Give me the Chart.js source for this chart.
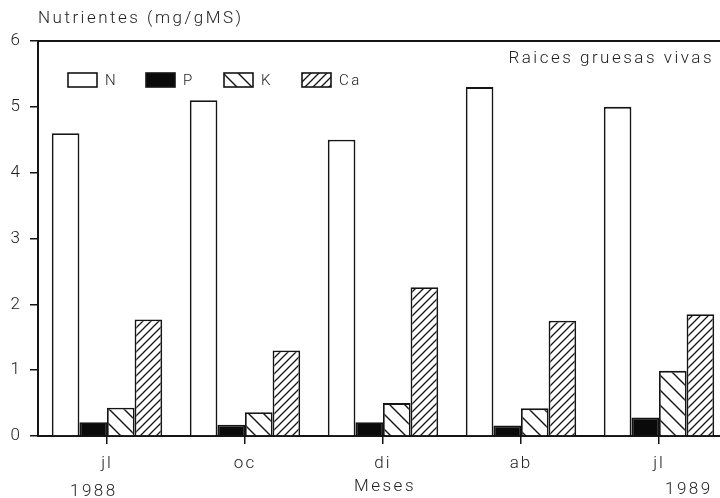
<!DOCTYPE html>
<html>
<head>
<meta charset="utf-8">
<script src="https://cdn.jsdelivr.net/npm/chart.js@4.4.0/dist/chart.umd.min.js"></script>
<style>
  html, body { margin: 0; padding: 0; background: #fff; overflow: hidden; }
  #wrap { width: 720px; height: 498px; overflow: hidden; }
</style>
</head>
<body>
<div id="wrap"><canvas id="chart" width="730" height="498"></canvas></div>
<script>
const months = ['jl', 'oc', 'di', 'ab', 'jl'];
const nValues = [4.6, 5.1, 4.5, 5.3, 5.0];
const pValues = [0.21, 0.17, 0.21, 0.16, 0.28];
const kValues = [0.43, 0.36, 0.50, 0.42, 0.99];
const caValues = [1.77, 1.30, 2.26, 1.75, 1.85];
const yTicks = [0, 1, 2, 3, 4, 5, 6];

const INK = '#151515';
const FONT = "'Roboto', 'Liberation Sans', sans-serif";

// diagonal hatch fill; dir 1 = "/", dir -1 = "\"
function hatch(size, dir, width) {
    const c = document.createElement('canvas');
    c.width = size;
    c.height = size;
    const g = c.getContext('2d');
    g.fillStyle = '#fff';
    g.fillRect(0, 0, size, size);
    g.strokeStyle = INK;
    g.lineWidth = width;
    g.beginPath();
    for (let k = -1; k <= 1; k++) {
        if (dir > 0) {
            g.moveTo(k * size - 1, size + 1);
            g.lineTo(k * size + size + 1, -1);
        } else {
            g.moveTo(k * size - 1, -1);
            g.lineTo(k * size + size + 1, size + 1);
        }
    }
    g.stroke();
    return g.createPattern(c, 'repeat');
}

const kFill = hatch(15, -1, 1.4);
const caFill = hatch(8, 1, 1.3);

const extras = {
    id: 'extras',
    beforeDraw(chart) {
        chart.ctx.letterSpacing = '2px';
    },
    afterDraw(chart) {
        const ctx = chart.ctx;
        const area = chart.chartArea;
        ctx.save();
        // frame line along the top of the plot
        ctx.strokeStyle = INK;
        ctx.lineWidth = 2;
        ctx.beginPath();
        ctx.moveTo(area.left, area.top);
        ctx.lineTo(chart.width, area.top);
        ctx.stroke();

        ctx.fillStyle = '#222';
        ctx.font = '300 17px ' + FONT;
        ctx.letterSpacing = '2.5px';
        ctx.textBaseline = 'middle';
        ctx.textAlign = 'left';
        ctx.fillText('Nutrientes (mg/gMS)', 38, 19);
        ctx.textAlign = 'right';
        ctx.fillText('Raices gruesas vivas', 714, 59);

        ctx.textAlign = 'left';
        ctx.fillText('1988', 70, 492);
        ctx.fillText('1989', 665, 490);
        ctx.textAlign = 'center';
        ctx.fillText('Meses', 385, 487);

        // legend boxes inside the plot
        ctx.font = '300 15px ' + FONT;
        ctx.textAlign = 'left';
        chart.data.datasets.forEach((ds, i) => {
            const x = 68 + i * 78;
            const y = 73;
            ctx.fillStyle = ds.backgroundColor;
            ctx.fillRect(x, y, 29, 14);
            ctx.strokeStyle = INK;
            ctx.lineWidth = 1.6;
            ctx.strokeRect(x, y, 29, 14);
            ctx.fillStyle = '#222';
            ctx.fillText(ds.label, x + 37, y + 8);
        });
        ctx.restore();
        ctx.letterSpacing = '0px';
    }
};

const barStyle = {
    borderColor: INK,
    borderWidth: 1.8,
    borderSkipped: 'bottom',
    barPercentage: 1.0,
    categoryPercentage: 0.8
};

new Chart(document.getElementById('chart'), {
    type: 'bar',
    data: {
        labels: months,
        datasets: [
            { label: 'N', data: nValues, backgroundColor: '#ffffff', ...barStyle },
            { label: 'P', data: pValues, backgroundColor: '#0a0a0a', ...barStyle },
            { label: 'K', data: kValues, backgroundColor: kFill, ...barStyle },
            { label: 'Ca', data: caValues, backgroundColor: caFill, ...barStyle }
        ]
    },
    options: {
        responsive: false,
        animation: false,
        devicePixelRatio: 1,
        layout: { padding: { top: 41, right: 2, left: 0, bottom: 0 } },
        plugins: {
            legend: { display: false },
            tooltip: { enabled: false }
        },
        scales: {
            x: {
                afterFit: s => { s.height = 62; },
                grid: {
                    display: true,
                    drawOnChartArea: false,
                    offset: false,
                    tickLength: 8,
                    color: INK,
                    lineWidth: 1.5
                },
                border: { display: true, color: INK, width: 2 },
                ticks: {
                    color: '#222',
                    padding: 10,
                    font: { family: FONT, size: 17, weight: '300' }
                }
            },
            y: {
                min: 0,
                max: 6,
                afterFit: s => { s.width = 38; },
                afterBuildTicks: s => { s.ticks = yTicks.map(v => ({ value: v })); },
                grid: {
                    display: true,
                    drawOnChartArea: false,
                    tickLength: 8,
                    color: INK,
                    lineWidth: 1.5
                },
                border: { display: true, color: INK, width: 2 },
                ticks: {
                    color: '#222',
                    padding: 8,
                    font: { family: FONT, size: 17, weight: '300' }
                }
            }
        }
    },
    plugins: [extras]
});
</script>
</body>
</html>
